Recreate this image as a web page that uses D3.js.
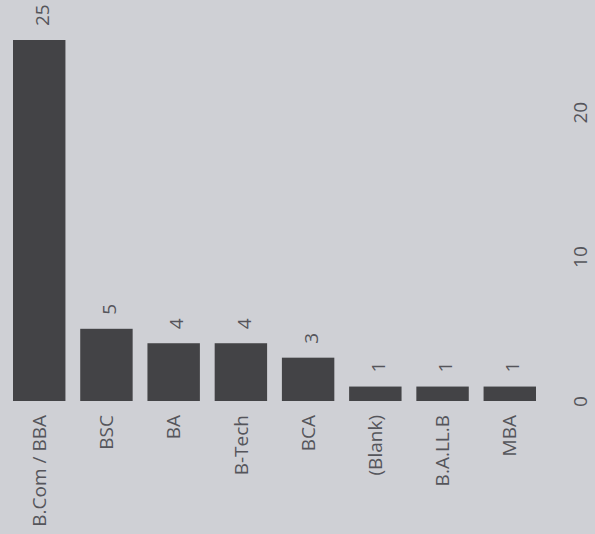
<!DOCTYPE html>
<html>
<head>
<meta charset="utf-8">
<script src="https://cdn.jsdelivr.net/npm/d3@7"></script>
<style>
  body { margin: 0; background: #cfd0d5; }
  svg { display: block; }
</style>
</head>
<body>
<div id="chart"></div>
<script>
const categories = ["B.Com / BBA", "BSC", "BA", "B-Tech", "BCA", "(Blank)", "B.A.LL.B", "MBA"];
const counts = [25, 5, 4, 4, 3, 1, 1, 1];
const tickValues = [0, 10, 20];

const width = 595, height = 534;
const fontSize = 19;
const textColor = "#55555b";

const data = categories.map((c, i) => ({ name: c, value: counts[i] }));

const svg = d3.select("#chart").append("svg")
    .attr("width", width)
    .attr("height", height)
    .style("font-family", "'Open Sans', sans-serif");

svg.append("rect")
    .attr("width", width)
    .attr("height", height)
    .attr("fill", "#cfd0d5");

const x = d3.scaleBand()
    .domain(categories)
    .range([13, 536])
    .paddingInner(0.22)
    .paddingOuter(0);

const y = d3.scaleLinear()
    .domain([0, 25])
    .range([401, 40]);

// bars
svg.append("g")
    .attr("fill", "#434346")
  .selectAll("rect")
  .data(data)
  .join("rect")
    .attr("x", d => x(d.name))
    .attr("y", d => y(d.value))
    .attr("width", x.bandwidth())
    .attr("height", d => y(0) - y(d.value));

// value labels, rotated like the rest of the photo
svg.append("g")
    .attr("fill", textColor)
    .style("font-size", fontSize + "px")
  .selectAll("text")
  .data(data)
  .join("text")
    .attr("transform", d => `translate(${x(d.name) + x.bandwidth() / 2 + 3},${y(d.value) - 14}) rotate(-90)`)
    .attr("text-anchor", "start")
    .attr("dy", "0.35em")
    .text(d => d.value);

// category labels
svg.append("g")
    .attr("fill", textColor)
    .style("font-size", fontSize + "px")
  .selectAll("text")
  .data(data)
  .join("text")
    .attr("transform", d => `translate(${x(d.name) + x.bandwidth() / 2},415) rotate(-90)`)
    .attr("text-anchor", "end")
    .attr("dy", "0.35em")
    .text(d => d.name);

// value axis on the right, no line
const axis = svg.append("g")
    .attr("transform", "translate(581,0)")
    .call(d3.axisRight(y).tickValues(tickValues).tickSize(0).tickPadding(0));
axis.select(".domain").remove();
axis.selectAll("text")
    .attr("x", 0)
    .attr("dy", "0.32em")
    .attr("text-anchor", "middle")
    .attr("transform", "rotate(-90)")
    .attr("fill", textColor)
    .style("font-size", fontSize + "px")
    .style("font-family", "'Open Sans', sans-serif");
</script>
</body>
</html>
